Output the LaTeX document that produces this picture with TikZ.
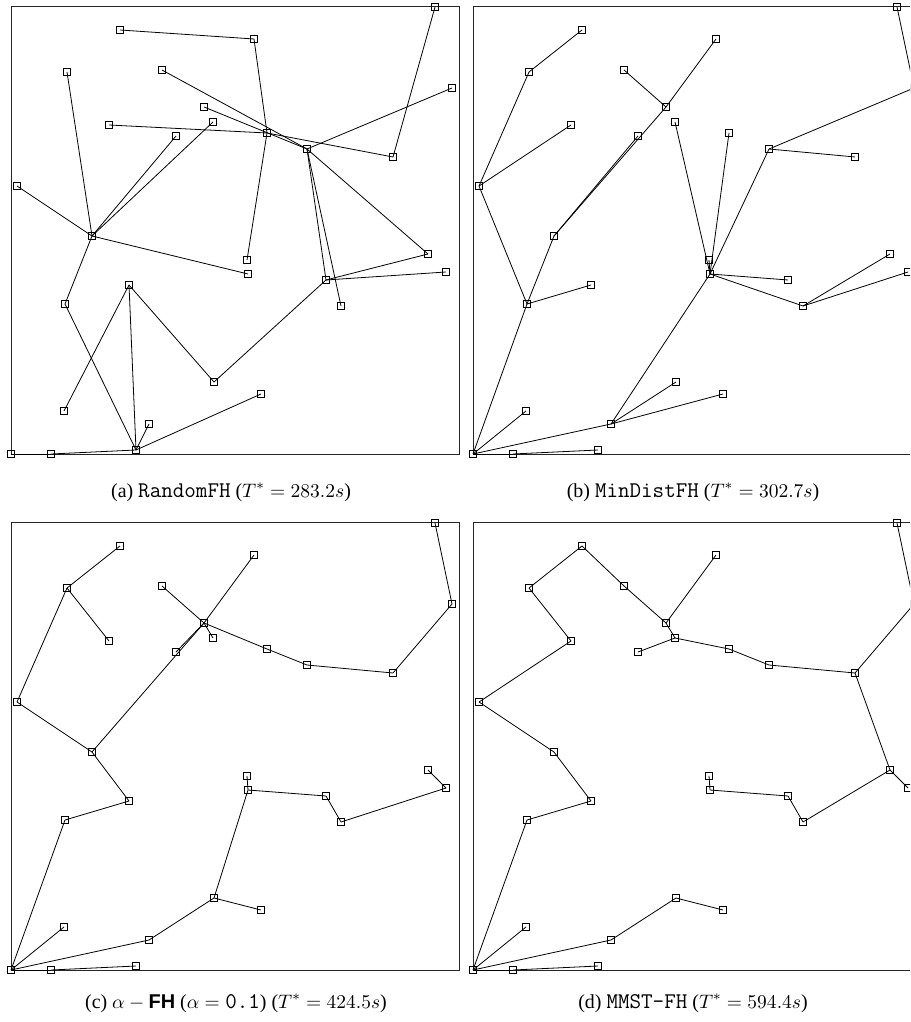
\documentclass[tikz,border=0pt]{standalone}
\usepackage{fontspec}
\setmainfont{Liberation Serif}
\setsansfont{Liberation Sans}

\tikzset{
  site/.style={draw, rectangle, minimum size=4.2pt, inner sep=0pt, line width=0.4pt},
  link/.style={line width=0.45pt},
  frame/.style={line width=0.5pt, draw=black!85},
  caption/.style={anchor=base, font=\fontsize{11.2}{13}\selectfont},
}
\newcommand\algname[1]{\mbox{\fontsize{12.6}{13}\selectfont\ttfamily #1}}

% customer sites, pixel positions inside panel (a)
\def\sites{1/120/30, 2/67/72, 3/162/70, 4/204/107, 5/109/125, 6/213/122,
  7/176/136, 8/17/186, 9/92/236, 10/254/39, 11/435/7, 12/452/88, 13/267/133,
  14/307/149, 15/393/157, 16/65/304, 17/129/285, 18/214/382, 19/64/411,
  20/149/424, 21/136/450, 22/11/454, 23/51/454, 24/247/260, 25/248/274,
  26/326/280, 27/428/254, 28/446/272, 29/341/306, 30/261/394}

\begin{document}
\begin{tikzpicture}[x=0.562pt, y=-0.562pt]
  \useasboundingbox (0,0) rectangle (910,1022);
  \begin{scope}
    \clip (0,0) rectangle (910,1022);
    % Frames and sites of the four panels
    \foreach \p/\dx/\dy in {a/0/0, b/462/0, c/0/516, d/462/516}{
      \draw[frame] (11+\dx,6+\dy) rectangle (459+\dx,454+\dy);
      \foreach \i/\x/\y in \sites
        \node[site] (\p\i) at (\x+\dx,\y+\dy) {};
    }
    % (a) RandomFH
    \foreach \u/\v in {1/10, 10/13, 3/14, 4/14, 5/13, 13/15, 14/12, 11/15,
      13/24, 14/26, 14/29, 14/27, 6/9, 7/9, 2/9, 8/9, 9/25, 9/16, 16/21,
      19/17, 17/21, 17/18, 18/26, 21/20, 21/30, 21/23, 22/23, 26/27, 26/28}
      \draw[link] (a\u.center) -- (a\v.center);
    % (b) MinDistFH
    \foreach \u/\v in {1/2, 2/8, 5/8, 8/16, 3/4, 4/10, 4/9, 7/9, 6/25, 13/25,
      14/25, 24/25, 25/26, 25/29, 29/27, 29/28, 25/20, 20/30, 20/18, 22/20,
      22/19, 22/16, 22/23, 23/21, 16/17, 16/9, 14/15, 14/12, 12/11}
      \draw[link] (b\u.center) -- (b\v.center);
    % (c) alpha-FH
    \foreach \u/\v in {1/2, 2/5, 2/8, 8/9, 9/4, 4/7, 3/4, 4/10, 4/6, 4/13,
      13/14, 14/15, 15/12, 12/11, 9/17, 17/16, 16/22, 22/19, 22/20, 20/18,
      18/25, 25/24, 25/26, 26/29, 29/28, 28/27, 18/30, 22/23, 23/21}
      \draw[link] (c\u.center) -- (c\v.center);
    % (d) MMST-FH
    \foreach \u/\v in {1/2, 1/3, 2/5, 5/8, 8/9, 9/17, 17/16, 16/22, 22/19,
      22/20, 20/18, 18/30, 22/23, 23/21, 3/4, 4/10, 4/6, 6/7, 6/13, 13/14,
      14/15, 15/12, 12/11, 15/27, 27/28, 27/29, 29/26, 26/25, 25/24}
      \draw[link] (d\u.center) -- (d\v.center);
  \end{scope}
  % Captions
  \node[caption] (capa) at (231,497) {(a) \algname{RandomFH} ($T^{*} = 283.2s$)};
  \node[caption] (capb) at (693,497) {(b) \algname{MinDistFH} ($T^{*} = 302.7s$)};
  \node[caption] (capc) at (236,1008) {(c) $\alpha - \textsf{\bfseries FH}$ ($\alpha = \algname{0.1}$) ($T^{*} = 424.5s$)};
  \node[caption] (capd) at (693,1008) {(d) \algname{MMST-FH} ($T^{*} = 594.4s$)};
\end{tikzpicture}
\end{document}
